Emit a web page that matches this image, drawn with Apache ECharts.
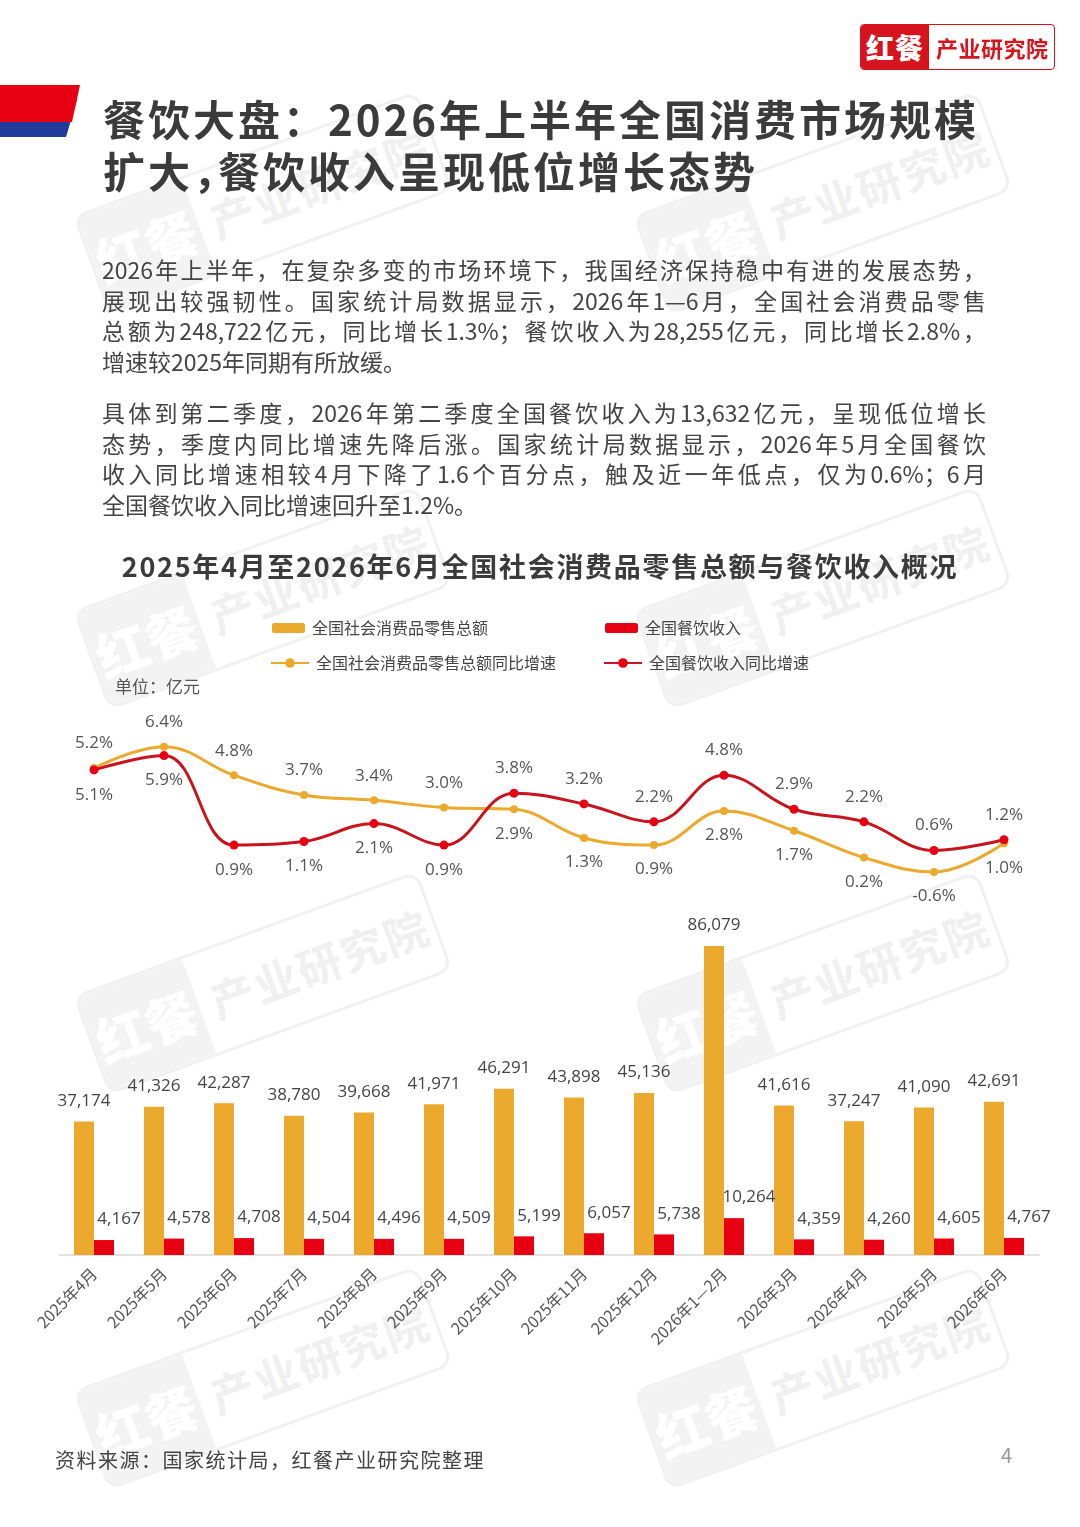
<!DOCTYPE html>
<html>
<head>
<meta charset="utf-8">
<script src="https://cdn.jsdelivr.net/npm/echarts@6/dist/echarts.min.js"></script>
<style>
  html, body { margin:0; padding:0; background:#fff; }
  body { width:1080px; height:1527px; position:relative; overflow:hidden; font-family:"Noto Sans CJK SC","Noto Sans",sans-serif; }
  #chart { position:absolute; left:0; top:0; width:1080px; height:1527px; z-index:1; }
  .abs { position:absolute; z-index:2; }
  .title { left:103px; top:92px; font-size:42px; font-weight:700; color:#3b3b3b; line-height:52px; letter-spacing:3px; white-space:nowrap; }
  .title .c { letter-spacing:-17px; }
  .para { left:102px; width:884px; font-size:23px; color:#444; line-height:30.7px; }
  .para div { text-align:justify; text-align-last:justify; white-space:nowrap; }
  .para div.last { text-align-last:left; }
  .ctitle { left:0; width:1080px; top:547px; text-align:center; font-size:27px; font-weight:700; color:#3b3b3b; line-height:38px; letter-spacing:1.7px; }
  .foot { left:55px; top:1446px; font-size:20px; color:#444; line-height:28px; letter-spacing:1.5px; }
  .page { left:1001px; top:1441px; font-size:20px; color:#999; line-height:28px; }
  .logo { left:860px; top:24px; width:193px; height:44px; border:1.5px solid #d7141d; border-radius:4px; overflow:hidden; background:#fff; }
  .logo .l { position:absolute; left:0; top:0; width:68px; height:44px; background:#d7141d; color:#fff; font-size:28px; font-weight:900; line-height:44px; text-align:center; letter-spacing:1px; }
  .logo .r { position:absolute; left:75px; top:0; height:44px; color:#d7141d; font-size:22px; font-weight:700; line-height:44px; letter-spacing:0.5px; }
  .wm { position:absolute; width:360px; height:100px; border:3px solid #f1f1f1; border-radius:14px; transform:rotate(-20deg); pointer-events:none; z-index:0; overflow:hidden; }
  .wm .a { position:absolute; left:0; top:0; width:112px; height:100px; background:#f3f3f3; color:#fff; font-size:52px; font-weight:900; line-height:100px; text-align:center; }
  .wm .b { position:absolute; left:125px; top:0; height:100px; color:#f0f0f0; font-size:44px; font-weight:700; line-height:100px; letter-spacing:2px; white-space:nowrap; }
</style>
</head>
<body>
<div class="wm" style="left:80px;top:150px"><div class="a">红餐</div><div class="b">产业研究院</div></div>
<div class="wm" style="left:640px;top:150px"><div class="a">红餐</div><div class="b">产业研究院</div></div>
<div class="wm" style="left:80px;top:545px"><div class="a">红餐</div><div class="b">产业研究院</div></div>
<div class="wm" style="left:640px;top:545px"><div class="a">红餐</div><div class="b">产业研究院</div></div>
<div class="wm" style="left:80px;top:930px"><div class="a">红餐</div><div class="b">产业研究院</div></div>
<div class="wm" style="left:640px;top:930px"><div class="a">红餐</div><div class="b">产业研究院</div></div>
<div class="wm" style="left:80px;top:1325px"><div class="a">红餐</div><div class="b">产业研究院</div></div>
<div class="wm" style="left:640px;top:1325px"><div class="a">红餐</div><div class="b">产业研究院</div></div>

<div id="chart"></div>
<svg class="abs" style="left:0;top:0" width="120" height="150">
  <polygon points="0,100 77,100 66,137 0,137" fill="#1f3b9c"/>
  <polygon points="0,85 80,85 72,122 0,122" fill="#e60012"/>
</svg>
<div class="abs logo"><div class="l">红餐</div><div class="r">产业研究院</div></div>
<div class="abs title">餐饮大盘：2026年上半年全国消费市场规模<br>扩大<span class="c">，</span>餐饮收入呈现低位增长态势</div>
<div class="abs para" style="top:254px">
  <div>2026年上半年，在复杂多变的市场环境下，我国经济保持稳中有进的发展态势，</div>
  <div>展现出较强韧性。国家统计局数据显示，2026年1—6月，全国社会消费品零售</div>
  <div>总额为248,722亿元，同比增长1.3%；餐饮收入为28,255亿元，同比增长2.8%，</div>
  <div class="last">增速较2025年同期有所放缓。</div>
</div>
<div class="abs para" style="top:397px">
  <div>具体到第二季度，2026年第二季度全国餐饮收入为13,632亿元，呈现低位增长</div>
  <div>态势，季度内同比增速先降后涨。国家统计局数据显示，2026年5月全国餐饮</div>
  <div>收入同比增速相较4月下降了1.6个百分点，触及近一年低点，仅为0.6%；6月</div>
  <div class="last">全国餐饮收入同比增速回升至1.2%。</div>
</div>
<div class="abs ctitle">2025年4月至2026年6月全国社会消费品零售总额与餐饮收入概况</div>
<div class="abs foot">资料来源：国家统计局，红餐产业研究院整理</div>
<div class="abs page">4</div>

<script>
const categories = ['2025年4月','2025年5月','2025年6月','2025年7月','2025年8月','2025年9月','2025年10月','2025年11月','2025年12月','2026年1—2月','2026年3月','2026年4月','2026年5月','2026年6月'];
const retailTotal = [37174,41326,42287,38780,39668,41971,46291,43898,45136,86079,41616,37247,41090,42691];
const cateringIncome = [4167,4578,4708,4504,4496,4509,5199,6057,5738,10264,4359,4260,4605,4767];
const retailGrowth = [5.2,6.4,4.8,3.7,3.4,3.0,2.9,1.3,0.9,2.8,1.7,0.2,-0.6,1.0];
const cateringGrowth = [5.1,5.9,0.9,1.1,2.1,0.9,3.8,3.2,2.2,4.8,2.9,2.2,0.6,1.2];

const names = {
  retail: '全国社会消费品零售总额',
  catering: '全国餐饮收入',
  retailG: '全国社会消费品零售总额同比增速',
  cateringG: '全国餐饮收入同比增速'
};
const YELLOW = '#EBAA2E', RED = '#E60012', DARKRED = '#C8141E';
const numFont = '"Open Sans","Noto Sans CJK SC",sans-serif';
const fmtNum = v => v.toLocaleString('en-US');
const fmtPct = v => v.toFixed(1) + '%';

function lineData(vals, other) {
  return vals.map((v, i) => ({
    value: v,
    label: { position: v >= other[i] ? 'top' : 'bottom' }
  }));
}

const chart = echarts.init(document.getElementById('chart'), null, { renderer: 'canvas' });
const legendText = { fontSize: 16, color: '#444', fontFamily: '"Noto Sans CJK SC",sans-serif', padding: [0,0,0,2] };
chart.setOption({
  animation: false,
  legend: [
    { data: [names.retail], left: 267, top: 615, itemWidth: 33, itemHeight: 10, textStyle: legendText, selectedMode: false },
    { data: [names.catering], left: 600, top: 615, itemWidth: 33, itemHeight: 10, textStyle: legendText, selectedMode: false },
    { data: [names.retailG], left: 265, top: 650, itemWidth: 38, itemHeight: 12, textStyle: legendText, selectedMode: false },
    { data: [names.cateringG], left: 598, top: 650, itemWidth: 38, itemHeight: 12, textStyle: legendText, selectedMode: false }
  ],
  graphic: [
    { type: 'text', left: 115, top: 678, style: { text: '单位：亿元', fontSize: 17, fill: '#555', fontFamily: '"Noto Sans CJK SC",sans-serif' } }
  ],
  grid: [
    { left: 59, right: 41, top: 718, height: 179 },
    { left: 59, right: 41, top: 896, height: 359 }
  ],
  xAxis: [
    { type: 'category', gridIndex: 0, data: categories, show: false },
    { type: 'category', gridIndex: 1, data: categories,
      axisLine: { lineStyle: { color: '#d9d9d9', width: 1.5 } },
      axisTick: { show: false },
      axisLabel: { rotate: 45, fontSize: 16, color: '#555', margin: 16, interval: 0, fontFamily: '"Noto Sans CJK SC",sans-serif' } }
  ],
  yAxis: [
    { type: 'value', gridIndex: 0, min: -2, max: 8, show: false },
    { type: 'value', gridIndex: 1, min: 0, max: 100000, show: false }
  ],
  series: [
    { name: names.retail, type: 'bar', xAxisIndex: 1, yAxisIndex: 1, data: retailTotal,
      barWidth: 20, barGap: '0%', itemStyle: { color: YELLOW },
      label: { show: true, position: 'top', distance: 12, fontSize: 17, color: '#444', fontFamily: numFont, formatter: p => fmtNum(p.value) } },
    { name: names.catering, type: 'bar', xAxisIndex: 1, yAxisIndex: 1, data: cateringIncome,
      barWidth: 20, barGap: '0%', itemStyle: { color: RED },
      label: { show: true, position: 'top', distance: 12, offset: [15, 0], fontSize: 17, color: '#444', fontFamily: numFont, formatter: p => fmtNum(p.value) } },
    { name: names.retailG, type: 'line', xAxisIndex: 0, yAxisIndex: 0, data: lineData(retailGrowth, cateringGrowth),
      smooth: 0.4, symbol: 'circle', symbolSize: 8, z: 3,
      lineStyle: { color: YELLOW, width: 3 }, itemStyle: { color: YELLOW },
      label: { show: true, distance: 12, fontSize: 17, color: '#555', fontFamily: numFont, formatter: p => fmtPct(p.value) } },
    { name: names.cateringG, type: 'line', xAxisIndex: 0, yAxisIndex: 0, data: lineData(cateringGrowth, retailGrowth),
      smooth: 0.4, symbol: 'circle', symbolSize: 9, z: 4,
      lineStyle: { color: DARKRED, width: 3 }, itemStyle: { color: RED },
      label: { show: true, distance: 12, fontSize: 17, color: '#555', fontFamily: numFont, formatter: p => fmtPct(p.value) } }
  ]
});
</script>
</body>
</html>
